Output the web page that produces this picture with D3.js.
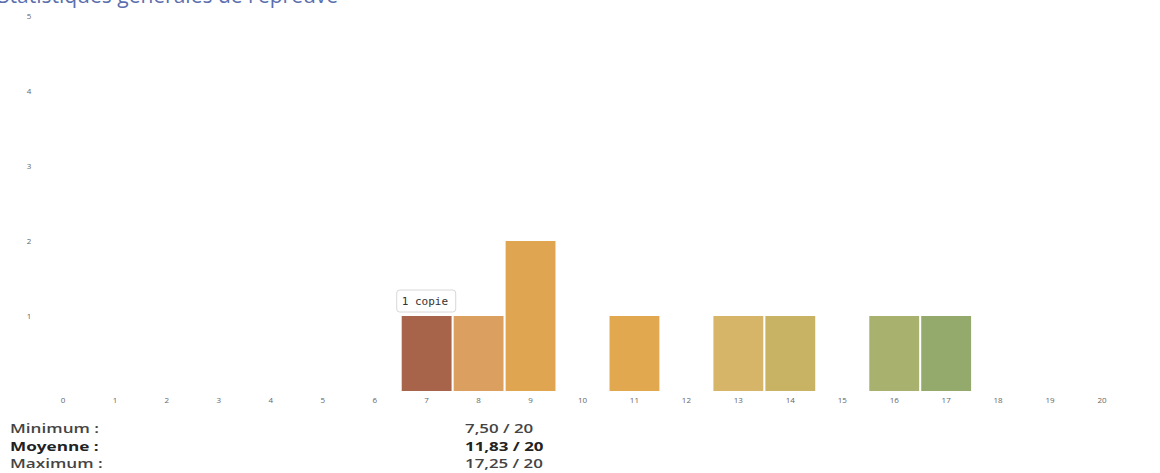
<!DOCTYPE html>
<html>
<head>
<meta charset="utf-8">
<script src="https://cdn.jsdelivr.net/npm/d3@7"></script>
<style>
  body { margin: 0; background: #fff; font-family: "Open Sans", sans-serif; }
</style>
</head>
<body>
<div id="chart"></div>
<script>
// notes 0..20, nombre de copies par note
var notes = d3.range(0, 21);
var copies = [0, 0, 0, 0, 0, 0, 0, 1, 1, 2, 0, 1, 0, 1, 1, 0, 1, 1, 0, 0, 0];
var barColors = ["#a8644a", "#a8644a", "#a8644a", "#a8644a", "#a8644a", "#a8644a", "#a8644a",
                 "#a8644a", "#dba060", "#e0a550", "#e1a752", "#e2a850", "#dcae5c", "#d6b468",
                 "#c8b264", "#b8b268", "#a8b26e", "#93aa6c", "#8aa86c", "#85a66c", "#80a46c"];
var yTicks = [1, 2, 3, 4, 5];
var statLabels = ["Minimum :", "Moyenne :", "Maximum :"];
var statValues = ["7,50 / 20", "11,83 / 20", "17,25 / 20"];
var tooltipNote = 7;
var tooltipText = "1 copie";

var w = 1160, h = 473;
var svg = d3.select("#chart").append("svg")
    .attr("width", w)
    .attr("height", h);

// title, cut off at the top like in the scan
svg.append("text")
    .attr("x", -2)
    .attr("y", 3)
    .style("font-size", "21px")
    .style("fill", "#5b6fae")
    .text("Statistiques générales de l'épreuve");

var x = d3.scaleBand()
    .domain(notes)
    .range([37, 1128])
    .paddingInner(0.04)
    .paddingOuter(0.02);

var y = d3.scaleLinear()
    .domain([0, 5])
    .range([391, 16]);

// y axis labels only
svg.append("g")
    .attr("transform", "translate(29,0)")
    .call(d3.axisLeft(y).tickValues(yTicks).tickFormat(d3.format("d")).tickSize(0).tickPadding(0))
    .call(function (g) { g.select(".domain").remove(); })
    .selectAll("text")
    .attr("text-anchor", "middle")
    .style("font-family", "Open Sans, sans-serif")
    .style("font-size", "8px")
    .style("fill", "#666");

// x axis labels
svg.append("g")
    .attr("transform", "translate(0,391)")
    .call(d3.axisBottom(x).tickSize(0).tickPadding(6))
    .call(function (g) { g.select(".domain").remove(); })
    .selectAll("text")
    .style("font-family", "Open Sans, sans-serif")
    .style("font-size", "8px")
    .style("fill", "#666");

// bars
svg.selectAll(".bar")
    .data(notes.filter(function (d) { return copies[d] > 0; }))
    .enter().append("rect")
    .attr("class", "bar")
    .attr("x", function (d) { return x(d); })
    .attr("y", function (d) { return y(copies[d]); })
    .attr("width", x.bandwidth())
    .attr("height", function (d) { return y(0) - y(copies[d]); })
    .style("fill", function (d) { return barColors[d]; });

// tooltip over bar 7
var tx = x(tooltipNote) - 5, ty = y(copies[tooltipNote]) - 26;
var tip = svg.append("g").attr("transform", "translate(" + tx + "," + ty + ")");
tip.append("rect")
    .attr("width", 59)
    .attr("height", 22)
    .attr("rx", 3)
    .style("fill", "#fff")
    .style("stroke", "#d8d8d8");
tip.append("text")
    .attr("x", 5)
    .attr("y", 15)
    .style("font-family", "DejaVu Sans Mono, monospace")
    .style("font-size", "11px")
    .style("fill", "#333")
    .text(tooltipText);

// stats below (the scan is stretched horizontally, hence the scale)
var stats = svg.append("g");
statLabels.forEach(function (lab, i) {
    var yy = 433 + i * 17.5;
    var weight = i === 1 ? "bold" : "600";
    var col = i === 1 ? "#222" : "#444";
    stats.append("text")
        .attr("transform", "translate(10," + yy + ") scale(1.32,1)")
        .style("font-size", "13px")
        .style("font-weight", weight)
        .style("fill", col)
        .text(lab);
    stats.append("text")
        .attr("transform", "translate(465," + yy + ") scale(1.3,1)")
        .style("font-size", "13px")
        .style("font-weight", weight)
        .style("fill", col)
        .text(statValues[i]);
});
</script>
</body>
</html>
